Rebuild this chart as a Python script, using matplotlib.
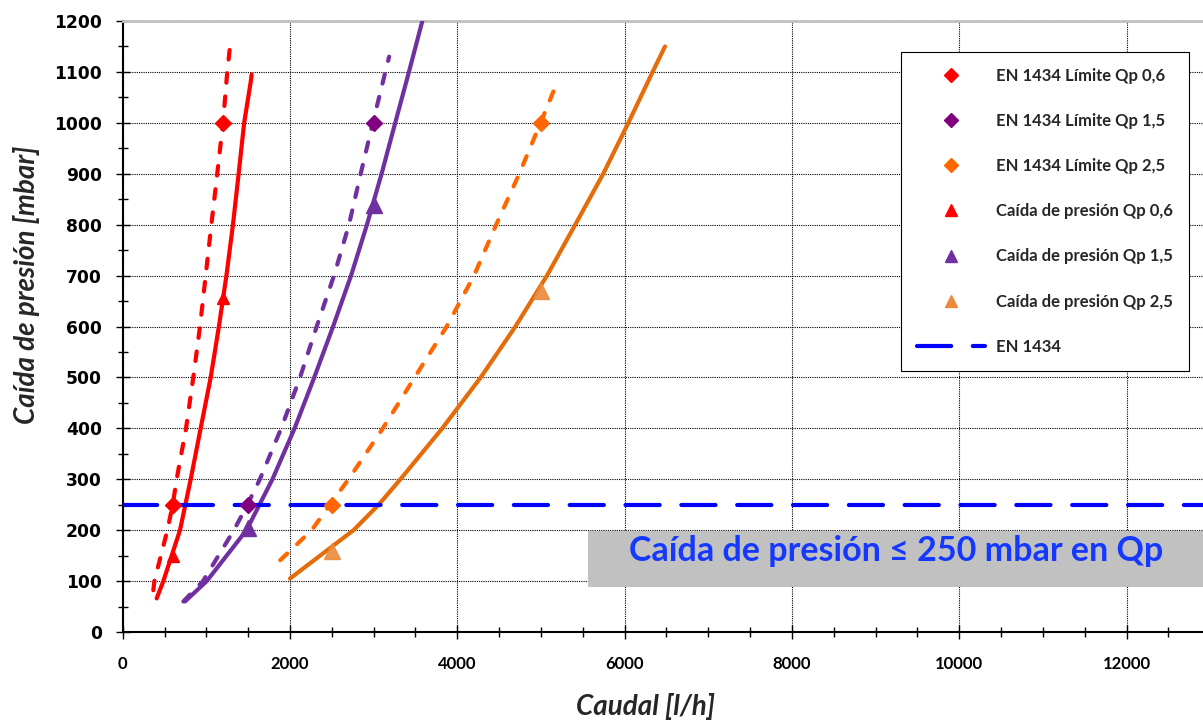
import matplotlib
matplotlib.use("Agg")
import matplotlib.pyplot as plt
from matplotlib.patches import Rectangle
from matplotlib.lines import Line2D
from matplotlib.ticker import MultipleLocator

# ---------------- data ----------------
# Caída de presión (solid curves)
red_q = [406, 486, 685, 813, 932, 1052, 1150, 1240, 1318, 1386, 1452, 1530, 1542]
red_p = [66, 100, 200, 300, 400, 500, 600, 700, 800, 900, 1000, 1080, 1095]
pur_q = [745, 1005, 1480, 1790, 2055, 2290, 2515, 2730, 2920, 3095, 3258, 3422, 3582]
pur_p = [60, 100, 200, 300, 400, 500, 600, 700, 800, 900, 1000, 1100, 1200]
ora_q = [2000, 2760, 3060, 3320, 3820, 4280, 4695, 5072, 5410, 5745, 6045, 6335, 6483]
ora_p = [105, 200, 250, 300, 400, 500, 600, 700, 800, 900, 1000, 1100, 1150]

# EN 1434 limit curves (dashed)
red_lim_q = [366, 379, 534, 598, 645, 757, 844, 924, 992, 1060, 1130, 1199, 1250, 1278]
red_lim_p = [82, 100, 200, 250, 300, 400, 500, 600, 700, 800, 900, 1000, 1100, 1143]
pur_lim_q = [725, 960, 1330, 1490, 1640, 1895, 2120, 2319, 2526, 2705, 2845, 2990, 3140, 3185]
pur_lim_p = [60, 100, 200, 250, 300, 400, 500, 600, 700, 800, 900, 1000, 1100, 1130]
ora_lim_q = [1883, 2259, 2478, 2700, 3110, 3490, 3873, 4200, 4465, 4741, 4995, 5190]
ora_lim_p = [141, 200, 250, 300, 400, 500, 600, 700, 800, 900, 1000, 1078]

# marker points
red_dia_q, red_dia_p = [600, 1200], [250, 1000]
pur_dia_q, pur_dia_p = [1500, 3000], [250, 1000]
ora_dia_q, ora_dia_p = [2500, 5000], [250, 1000]
red_tri_q, red_tri_p = [600, 1200], [150, 655]
pur_tri_q, pur_tri_p = [1500, 3000], [205, 838]
ora_tri_q, ora_tri_p = [2500, 5000], [160, 670]

en1434_limit = 250

legend_labels = ["EN 1434 Límite Qp 0,6", "EN 1434 Límite Qp 1,5", "EN 1434 Límite Qp 2,5",
                 "Caída de presión Qp 0,6", "Caída de presión Qp 1,5", "Caída de presión Qp 2,5",
                 "EN 1434"]
x_label = "Caudal [l/h]"
y_label = "Caída de presión [mbar]"
box_text = "Caída de presión ≤ 250 mbar en Qp"

# ---------------- styling ----------------
RED = "#ff0000"
PUR = "#7030a0"
PUR_D = "#800080"
ORA_D = "#ff6600"
ORA = "#e46c0a"
ORA_T = "#ec8a3c"
BLUE = "#0000ff"
NARROW = ["Lato", "DejaVu Sans"]

W, H = 1203, 722
fig = plt.figure(figsize=(W / 100, H / 100), dpi=100)
left, bottom, top = 122.7, 632, 21
ax = fig.add_axes([left / W, (H - bottom) / H, (W - left) / W, (bottom - top) / H])

ax.set_xlim(0, (W - left) / 0.08365)
ax.set_ylim(0, 1200)

lw = 3.0
dash = (0, (2.3, 3.3))
for q, p, c in [(red_lim_q, red_lim_p, RED), (pur_lim_q, pur_lim_p, PUR), (ora_lim_q, ora_lim_p, ORA_D)]:
    ax.plot(q, p, color=c, lw=lw, linestyle=dash, dash_capstyle="round", zorder=3)
for q, p, c in [(red_q, red_p, RED), (pur_q, pur_p, PUR), (ora_q, ora_p, ORA)]:
    ax.plot(q, p, color=c, lw=lw, solid_capstyle="round", solid_joinstyle="round", zorder=3)

ax.axhline(en1434_limit, color=BLUE, lw=3.0, linestyle=(0, (8.2, 5.2)), dash_capstyle="round", zorder=4)

ms = 9
ax.plot(red_dia_q, red_dia_p, "D", color=RED, ms=ms * 0.85, ls="none", zorder=5)
ax.plot(pur_dia_q, pur_dia_p, "D", color=PUR_D, ms=ms * 0.85, ls="none", zorder=5)
ax.plot(ora_dia_q, ora_dia_p, "D", color=ORA_D, ms=ms * 0.85, ls="none", zorder=5)
ax.plot(red_tri_q, red_tri_p, "^", color=RED, ms=ms, ls="none", zorder=5)
ax.plot(pur_tri_q, pur_tri_p, "^", color=PUR, ms=ms + 2, ls="none", zorder=5)
ax.plot(ora_tri_q, ora_tri_p, "^", color=ORA_T, ms=ms + 2, ls="none", alpha=0.9, zorder=5)

# grid / ticks
ax.xaxis.set_major_locator(MultipleLocator(2000))
ax.xaxis.set_minor_locator(MultipleLocator(500))
ax.yaxis.set_major_locator(MultipleLocator(100))
ax.yaxis.set_minor_locator(MultipleLocator(50))
ax.grid(True, which="major", color="black", lw=0.8, linestyle=(0, (1, 1)))
ax.set_axisbelow(True)
ax.tick_params(which="major", direction="inout", length=10, width=1.0, color="black")
ax.tick_params(which="minor", direction="inout", length=7, width=1.0, color="black")
ax.tick_params(axis="x", which="major", pad=12)
ax.tick_params(axis="y", which="major", pad=10)
for lab in ax.get_yticklabels():
    lab.set_family("DejaVu Sans")
    lab.set_fontweight("bold")
    lab.set_fontsize(12.3)
for lab in ax.get_xticklabels():
    lab.set_family(NARROW)
    lab.set_fontweight("bold")
    lab.set_fontsize(12)

ax.spines["right"].set_visible(False)
ax.spines["top"].set_color("#c0c0c0")
ax.spines["top"].set_linewidth(2.0)
ax.spines["left"].set_linewidth(1.5)
ax.spines["bottom"].set_linewidth(1.5)

fig.text(645 / W, 1 - 706 / H, x_label, ha="center", va="center", fontsize=20,
         fontweight="bold", style="italic", family=NARROW, color="#262626")
fig.text(27 / W, 1 - 285 / H, y_label, ha="center", va="center", rotation=90, fontsize=20,
         fontweight="bold", style="italic", family=NARROW, color="#262626")

# gray annotation box
rect = Rectangle((588 / W, 1 - 587 / H), (W - 588) / W, 56 / H, transform=fig.transFigure,
                 facecolor="#c0c1c0", edgecolor="none", zorder=6, clip_on=False)
ax.add_patch(rect)
ax.text(896 / W, 1 - 551 / H, box_text, transform=fig.transFigure, ha="center", va="center",
        fontsize=24.5, fontweight="bold", family=NARROW, color="#1438ff", zorder=7)

# legend
handles = [
    Line2D([], [], marker="D", color=RED, ls="none", ms=7),
    Line2D([], [], marker="D", color=PUR_D, ls="none", ms=7),
    Line2D([], [], marker="D", color=ORA_D, ls="none", ms=7),
    Line2D([], [], marker="^", color=RED, ls="none", ms=9),
    Line2D([], [], marker="^", color=PUR, ls="none", ms=9),
    Line2D([], [], marker="^", color=ORA_T, ls="none", ms=9),
    Line2D([], [], color=BLUE, lw=3.0, linestyle=(0, (8.2, 5.2)), dash_capstyle="round"),
]
fs_leg = 12
leg = ax.legend(handles, legend_labels, loc="upper left",
                bbox_to_anchor=(901 / W, 1 - 52 / H), bbox_transform=fig.transFigure,
                prop={"family": NARROW, "weight": "bold", "size": fs_leg},
                frameon=True, fancybox=False, edgecolor="black", framealpha=1,
                handlelength=4.1, handletextpad=0.66, labelspacing=1.75,
                borderpad=0.95, borderaxespad=0)
leg.get_frame().set_linewidth(0.8)
for t in leg.get_texts():
    t.set_color("#262626")
leg.set_zorder(8)

fig.savefig("out.png", dpi=100)
